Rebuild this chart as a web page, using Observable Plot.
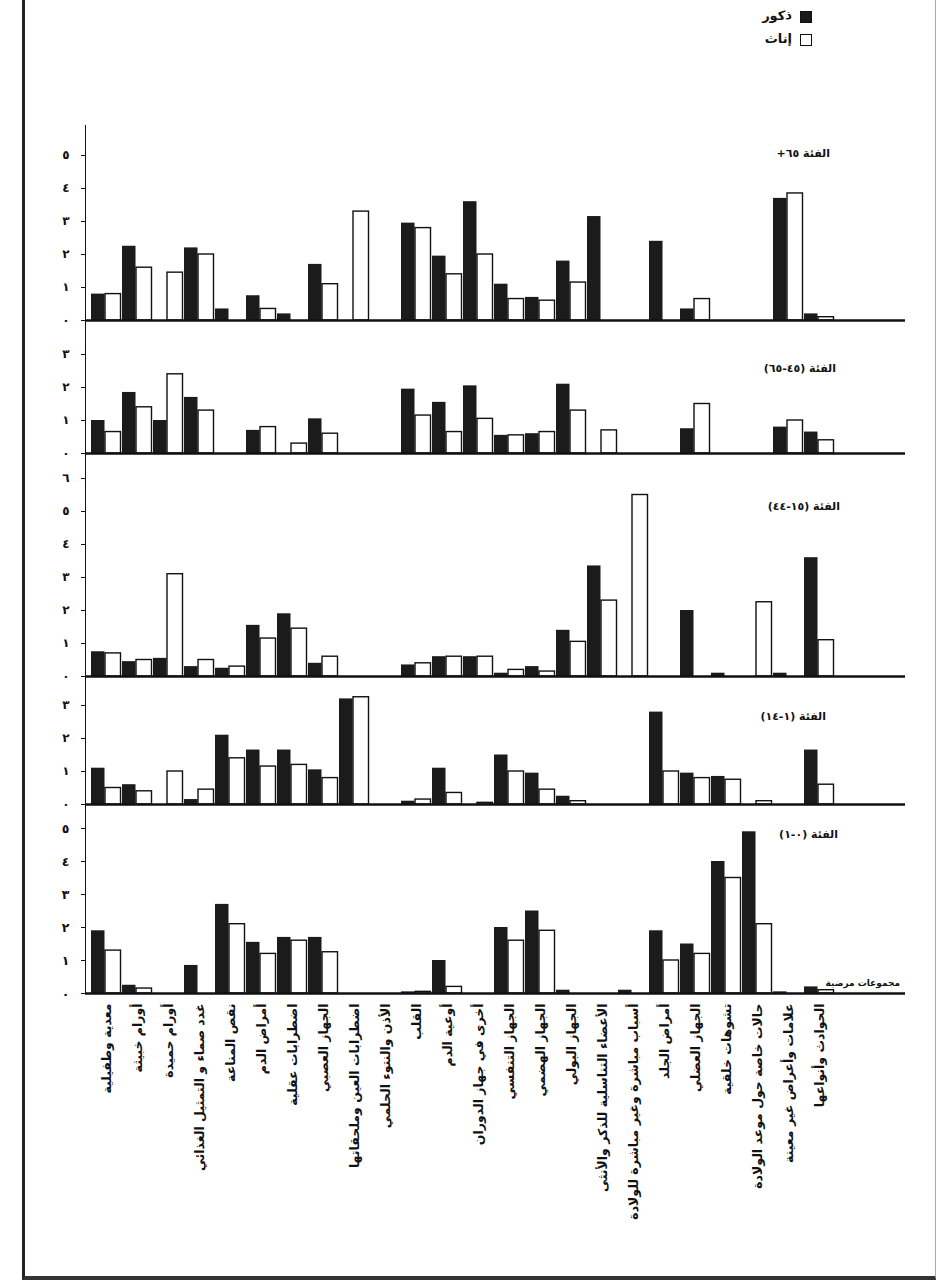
<!DOCTYPE html>
<html><head><meta charset="utf-8">
<script src="https://cdn.jsdelivr.net/npm/d3@7"></script>
<script src="https://cdn.jsdelivr.net/npm/@observablehq/plot@0.6"></script>
<style>
body{margin:0;background:#fff;font-family:"DejaVu Sans",sans-serif;}
#page{position:relative;width:946px;height:1286px;overflow:hidden;background:#fff;}
.panel{position:absolute;left:0;}
.txt{position:absolute;direction:rtl;font-weight:bold;font-size:11px;white-space:nowrap;color:#111;font-family:"DejaVu Sans",sans-serif;}
.border{position:absolute;left:22px;top:-4px;width:910px;height:1280px;border-left:3px solid #222;border-bottom:4px solid #333;border-right:1px solid #aaa;}
.sw{position:absolute;width:10px;height:10px;border:1.5px solid #111;}
</style></head><body><div id="page"><div class="border"></div></div>
<script>
// Disease groups (x categories)
const categories = [
  "معدية وطفيلية","أورام خبيثة","أورام حميدة","غدد صماء و التمثيل الغذائي","نقص المناعة",
  "أمراض الدم","اضطرابات عقلية","الجهاز العصبي","اضطرابات العين وملحقاتها","الأذن والنتوء الحلمي",
  "القلب","أوعية الدم","أخرى في جهاز الدوران","الجهاز التنفسي","الجهاز الهضمي",
  "الجهاز البولي","الأعضاء التناسلية للذكر والأنثى","أسباب مباشرة وغير مباشرة للولادة","أمراض الجلد","الجهاز العضلي",
  "تشوهات خلقية","حالات خاصة حول موعد الولادة","علامات وأعراض غير معينة","الحوادث وأنواعها"
];
// Age group 65+
const male65   = [0.8,2.25,0,2.2,0.35,0.75,0.2,1.7,0,0,2.95,1.95,3.6,1.1,0.7,1.8,3.15,0,2.4,0.35,0,0,3.7,0.2];
const female65 = [0.8,1.6,1.45,2.0,0,0.35,0,1.1,3.3,0,2.8,1.4,2.0,0.65,0.6,1.15,0,0,0,0.65,0,0,3.85,0.1];
// Age group 45-65
const male4565   = [1.0,1.85,1.0,1.7,0,0.7,0,1.05,0,0,1.95,1.55,2.05,0.55,0.6,2.1,0,0,0,0.75,0,0,0.8,0.65];
const female4565 = [0.65,1.4,2.4,1.3,0,0.8,0.3,0.6,0,0,1.15,0.65,1.05,0.55,0.65,1.3,0.7,0,0,1.5,0,0,1.0,0.4];
// Age group 15-44
const male1544   = [0.75,0.45,0.55,0.3,0.25,1.55,1.9,0.4,0,0,0.35,0.6,0.6,0.1,0.3,1.4,3.35,0,0,2.0,0.1,0,0.1,3.6];
const female1544 = [0.7,0.5,3.1,0.5,0.3,1.15,1.45,0.6,0,0,0.4,0.6,0.6,0.2,0.15,1.05,2.3,5.5,0,0,0,2.25,0,1.1];
// Age group 1-14
const male114   = [1.1,0.6,0,0.15,2.1,1.65,1.65,1.05,3.2,0,0.1,1.1,0,1.5,0.95,0.25,0,0,2.8,0.95,0.85,0,0,1.65];
const female114 = [0.5,0.4,1.0,0.45,1.4,1.15,1.2,0.8,3.25,0,0.15,0.35,0.05,1.0,0.45,0.1,0,0,1.0,0.8,0.75,0.1,0,0.6];
// Age group 0-1
const male01   = [1.9,0.25,0,0.85,2.7,1.55,1.7,1.7,0,0,0.05,1.0,0,2.0,2.5,0.1,0,0.1,1.9,1.5,4.0,4.9,0.05,0.2];
const female01 = [1.3,0.15,0,0,2.1,1.2,1.6,1.25,0,0,0.05,0.2,0,1.6,1.9,0,0,0,1.0,1.2,3.5,2.1,0,0.1];

const tickLabels = ["٠","١","٢","٣","٤","٥","٦","٧"];
const panelTitles = ["الفئة ٦٥+","الفئة (٤٥-٦٥)","الفئة (١٥-٤٤)","الفئة (١-١٤)","الفئة (٠-١)"];
const legendLabels = ["ذكور","إناث"];
const axisTitle = "مجموعات مرضية";

const PX = 33;          // pixels per unit
const LEFT = 85, RIGHT_END = 905, BAND_END = 841;

const panels = [
  {title: panelTitles[0], male: male65,   female: female65,   top: 125, base: 320, ticks: [0,1,2,3,4,5],   tRight: 830, tY: 155},
  {title: panelTitles[1], male: male4565, female: female4565, top: 320, base: 453, ticks: [0,1,2,3],       tRight: 836, tY: 370},
  {title: panelTitles[2], male: male1544, female: female1544, top: 453, base: 676, ticks: [0,1,2,3,4,5,6], tRight: 840, tY: 508},
  {title: panelTitles[3], male: male114,  female: female114,  top: 676, base: 804, ticks: [0,1,2,3],       tRight: 826, tY: 718},
  {title: panelTitles[4], male: male01,   female: female01,   top: 804, base: 993, ticks: [0,1,2,3,4,5],   tRight: 838, tY: 836}
];

const page = document.getElementById("page");

panels.forEach((p, k) => {
  const last = k === panels.length - 1;
  const rows = categories.map((c, i) => ({category: c, male: p.male[i], female: p.female[i]}));
  const h = p.base - p.top;
  const mb = last ? 260 : 3;
  const chart = Plot.plot({
    width: 946,
    height: h + mb,
    marginLeft: LEFT,
    marginRight: 946 - RIGHT_END,
    marginTop: 0,
    marginBottom: mb,
    style: {fontFamily: "DejaVu Sans, sans-serif", fontSize: last ? "12.5px" : "12px", fontWeight: "bold", background: "transparent", color: "#111", overflow: "visible"},
    x: last
      ? {domain: categories, range: [LEFT, BAND_END], padding: 0, tickRotate: -90, tickSize: 0, tickPadding: 10, label: null}
      : {domain: categories, range: [LEFT, BAND_END], padding: 0, axis: null},
    y: {domain: [0, h / PX], ticks: p.ticks, tickFormat: d => tickLabels[d], tickSize: 4, tickPadding: 12, line: true, label: null},
    marks: [
      Plot.barY(rows.filter(d => d.male > 0), {x: "category", y: "male", fill: "#1b1b1b", insetLeft: 0, insetRight: 17.5}),
      Plot.barY(rows.filter(d => d.female > 0), {x: "category", y: "female", fill: "white", stroke: "#111", strokeWidth: 1.4, insetLeft: 14, insetRight: 1.5}),
      Plot.ruleY([0], {stroke: "#111", strokeWidth: 2.5})
    ]
  });
  chart.classList.add("panel");
  chart.style.top = p.top + "px";
  page.appendChild(chart);

  const t = document.createElement("div");
  t.className = "txt";
  t.textContent = p.title;
  t.style.right = (946 - p.tRight) + "px";
  t.style.top = (p.tY - 8) + "px";
  page.appendChild(t);
});

// axis title at the end of the bottom axis
const at = document.createElement("div");
at.className = "txt";
at.style.fontSize = "9px";
at.textContent = axisTitle;
at.style.right = "46px";
at.style.top = "978px";
page.appendChild(at);

// legend
legendLabels.forEach((lab, i) => {
  const sw = document.createElement("div");
  sw.className = "sw";
  sw.style.left = "800px";
  sw.style.top = (11 + i * 23) + "px";
  sw.style.background = i === 0 ? "#1b1b1b" : "#fff";
  page.appendChild(sw);
  const tx = document.createElement("div");
  tx.className = "txt";
  tx.style.fontSize = "13px";
  tx.textContent = lab;
  tx.style.right = (946 - 792) + "px";
  tx.style.top = (8 + i * 23) + "px";
  page.appendChild(tx);
});
</script>
</body></html>
